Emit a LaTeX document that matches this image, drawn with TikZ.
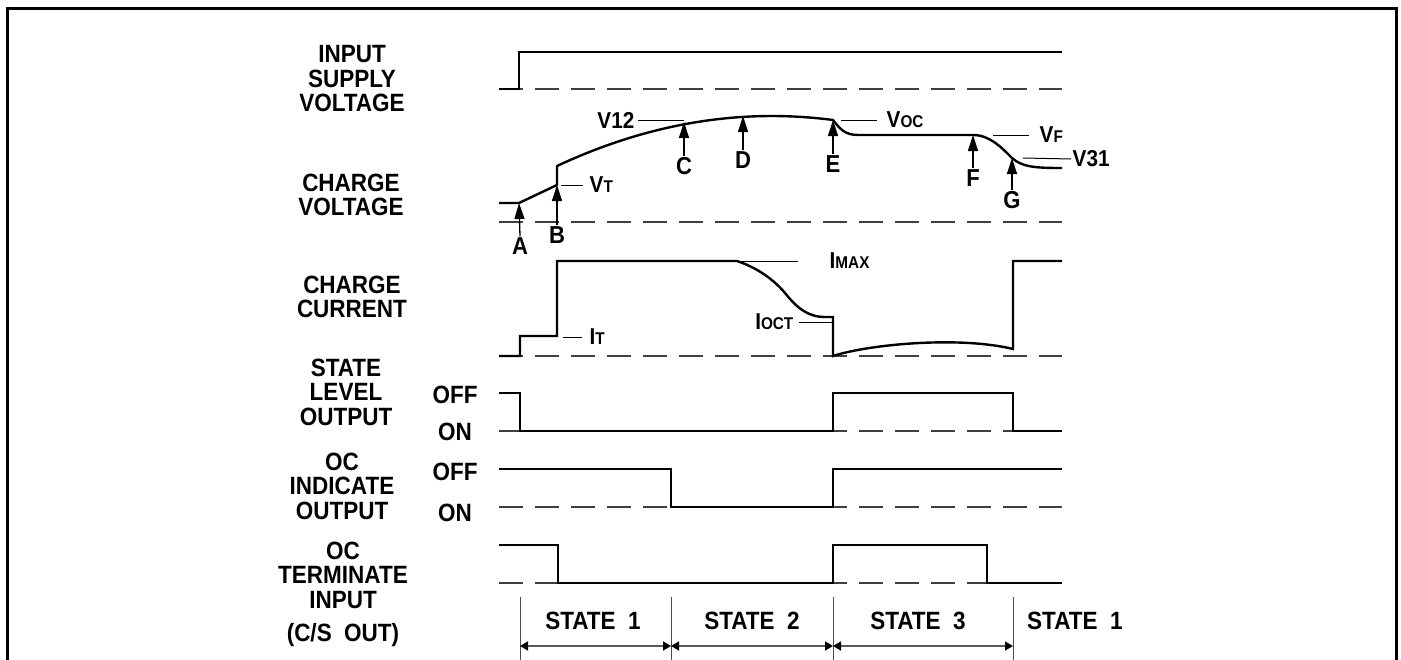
\documentclass[tikz,border=0pt]{standalone}
\usepackage{fontspec}
\setmainfont{Liberation Sans}[FakeStretch=0.9]
\usetikzlibrary{arrows.meta}
\newcommand{\smc}[1]{{\fontsize{17}{17}\selectfont #1}}
\begin{document}
\begin{tikzpicture}[x=1pt,y=-1pt,
  sig/.style={line width=2.4pt},
  base/.style={line width=1.2pt, black!75, dash pattern=on 24pt off 12pt},
  lead/.style={line width=1pt},
  lab/.style={font=\fontsize{25}{24.5}\selectfont\bfseries, align=center, inner sep=0pt},
  ann/.style={font=\fontsize{23}{23}\selectfont\bfseries, inner sep=1.5pt},
  let/.style={font=\fontsize{24.5}{24}\selectfont\bfseries, inner sep=1pt},
  ptr/.style={line width=1.3pt, -{Triangle[length=16pt,width=10pt]}},
  bnd/.style={line width=0.8pt, black!70},
  span/.style={line width=1.5pt, black!65, {Triangle[length=8pt,width=9pt,color=black]}-{Triangle[length=8pt,width=9pt,color=black]}},
]
\useasboundingbox (0,0) rectangle (1401,659);
% frame
\draw[line width=3pt] (7,662) -- (7,8) -- (1396,8) -- (1396,662);

% left labels
\node[lab] (Lin) at (352,79) {INPUT\\SUPPLY\\VOLTAGE};
\node[lab] (Lcv) at (351,195) {CHARGE\\VOLTAGE};
\node[lab] (Lcc) at (352,297) {CHARGE\\CURRENT};
\node[lab] (Lsl) at (346,392) {STATE\\LEVEL\\OUTPUT};
\node[lab] (Loi) at (342,486) {OC\\INDICATE\\OUTPUT};
\node[lab] (Lot) at (343,575) {OC\\TERMINATE\\INPUT};
\node[lab] (Lcs) at (343,635) {(C/S\ \ OUT)};
\node[lab] (off1) at (455,395) {OFF};
\node[lab] (on1) at (455,432) {ON};
\node[lab] (off2) at (455,472) {OFF};
\node[lab] (on2) at (455,513) {ON};

% input supply voltage
\draw[base] (499,89) -- (1062,89);
\draw[sig] (499,89) -- (519,89) -- (519,52) -- (1062,52);

% charge voltage
\coordinate (pA) at (519,203);
\coordinate (pB) at (557,185);
\coordinate (pB2) at (557,166);
\coordinate (pC) at (684,122);
\coordinate (pD) at (743,116);
\coordinate (pE) at (833,120);
\coordinate (pF) at (973,135);
\coordinate (pG) at (1012,158);
\draw[base] (499,222) -- (1062,222);
\draw[sig, line join=round] (499,203) -- (pA) -- (pB) -- (pB2)
  .. controls (649,123) and (741,108) .. (pE)
  .. controls (840,129) and (845,135) .. (858,135) -- (pF)
  .. controls (990,135) and (1002,148) .. (pG)
  .. controls (1022,167) and (1035,168) .. (1062,168);

\node[let] (lA) at (520,246) {A};
\node[let] (lB) at (557,235) {B};
\node[let] (lC) at (684,166) {C};
\node[let] (lD) at (743,160) {D};
\node[let] (lE) at (833,164) {E};
\node[let] (lF) at (973,178) {F};
\node[let] (lG) at (1012,200) {G};
\draw[ptr] (lA.north) -- (pA);
\draw[ptr] (lB.north) -- (pB);
\draw[ptr] (lC.north) -- (pC);
\draw[ptr] (lD.north) -- (pD);
\draw[ptr] (lE.north) -- (pE);
\draw[ptr] (lF.north) -- (pF);
\draw[ptr] (lG.north) -- (pG);

\node[ann, anchor=east] (v12) at (636,120) {V12};
\draw[lead] ([xshift=2pt]v12.east) -- (v12.east -| pC);
\node[ann, anchor=west] (vt) at (588,185) {V\smc{T}};
\draw[lead] ([xshift=4pt]pB) -- ([xshift=-5pt]vt.west);
\node[ann, anchor=west] (voc) at (885,120) {V\smc{OC}};
\draw[lead] ([xshift=8pt]pE) -- ([xshift=-8pt]voc.west);
\node[ann, anchor=west] (vf) at (1038,135) {V\smc{F}};
\draw[lead] ([xshift=20pt]pF) -- ([xshift=-9pt]vf.west);
\node[ann, anchor=west] (v31) at (1071,159) {V31};
\draw[lead] ([xshift=11pt]pG) -- (v31.west);

% charge current
\coordinate (pMax) at (737,261);
\coordinate (pOct) at (833,322);
\coordinate (pIt) at (557,337);
\draw[base] (499,356) -- (1062,356);
\draw[sig] (499,356) -- (520,356) -- (520,336) -- (557,336) -- (557,261) -- (pMax)
  .. controls (758,268) and (774,280) .. (785,293)
  .. controls (797,308) and (808,317) .. (825,317) -- (833,317) -- (833,356)
  .. controls (870,344) and (960,336) .. (1013,349) -- (1013,261) -- (1062,261);
\node[ann, anchor=west] (imax) at (828,261) {I\smc{MAX}};
\draw[lead] (pMax) -- ([xshift=-30pt]imax.west);
\node[ann, anchor=east] (ioct) at (795,322) {I\smc{OCT}};
\draw[lead] ([xshift=4pt]ioct.east) -- (pOct);
\node[ann, anchor=west] (it) at (588,337) {I\smc{T}};
\draw[lead] ([xshift=6pt]pIt) -- ([xshift=-6pt]it.west);

% state level output
\draw[base] (499,431) -- (1062,431);
\draw[sig] (499,393) -- (520,393) -- (520,431) -- (833,431) -- (833,393) -- (1013,393) -- (1013,431) -- (1062,431);

% OC indicate output
\draw[base] (499,507) -- (1062,507);
\draw[sig] (499,469) -- (671,469) -- (671,507) -- (833,507) -- (833,469) -- (1062,469);

% OC terminate input
\draw[base] (499,583) -- (1062,583);
\draw[sig] (499,545) -- (558,545) -- (558,583) -- (833,583) -- (833,545) -- (987,545) -- (987,583) -- (1062,583);

% state boundaries
\coordinate (t1) at (520,597); \coordinate (b1) at (520,662);
\coordinate (t2) at (671,597); \coordinate (b2) at (671,662);
\coordinate (t3) at (833,597); \coordinate (b3) at (833,662);
\coordinate (t4) at (1013,597); \coordinate (b4) at (1013,662);
\draw[bnd] (t1) -- (b1);
\draw[bnd] (t2) -- (b2);
\draw[bnd] (t3) -- (b3);
\draw[bnd] (t4) -- (b4);
\coordinate (s1) at (520,646);
\coordinate (s2) at (671,646);
\coordinate (s3) at (833,646);
\coordinate (s4) at (1013,646);
\draw[span] (s1) -- (s2);
\draw[span] (s2) -- (s3);
\draw[span] (s3) -- (s4);
\node[lab] (st1) at (593,621) {STATE\ \ 1};
\node[lab] (st2) at (752,621) {STATE\ \ 2};
\node[lab] (st3) at (918,621) {STATE\ \ 3};
\node[lab, anchor=west] (st4) at (1027,621) {STATE\ \ 1};
\end{tikzpicture}
\end{document}
